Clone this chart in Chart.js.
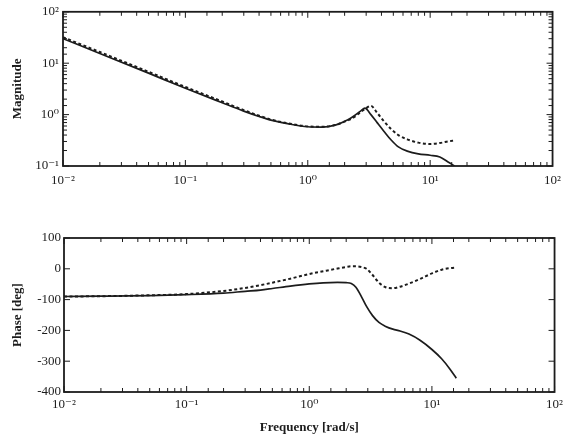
<!DOCTYPE html>
<html>
<head>
<meta charset="utf-8">
<script src="https://cdn.jsdelivr.net/npm/chart.js@4.4.1/dist/chart.umd.min.js"></script>
<style>
  body { margin: 0; background: #fff; }
  canvas { position: absolute; left: 0; }
  #magChart { top: 0; }
  #phaseChart { top: 210px; }
</style>
</head>
<body>
<canvas id="magChart" width="568" height="200"></canvas>
<canvas id="phaseChart" width="568" height="228"></canvas>
<script>
// frequency points [rad/s]
const freq = [0.01, 0.02, 0.05, 0.1, 0.2, 0.3, 0.4, 0.5, 0.7, 1.0, 1.3, 1.7, 2.0, 2.2,
              2.4, 2.7, 2.93, 3.28, 3.7, 4.2, 4.8, 5.5, 6.5, 8, 10, 12, 14, 15.8];

const magSolid = [30, 15.5, 6.4, 3.25, 1.7, 1.17, 0.92, 0.78, 0.66, 0.58, 0.57, 0.63, 0.74, 0.83,
                  0.95, 1.17, 1.34, 1.0, 0.69, 0.47, 0.32, 0.235, 0.195, 0.172, 0.162, 0.15, 0.12, 0.1];
const magDashed = [32, 16.5, 6.8, 3.45, 1.8, 1.22, 0.95, 0.8, 0.67, 0.59, 0.58, 0.63, 0.73, 0.8,
                   0.9, 1.12, 1.28, 1.48, 1.07, 0.74, 0.52, 0.4, 0.33, 0.285, 0.268, 0.28, 0.3, 0.315];

const phaseSolid = [-90, -89, -87, -84, -79, -73, -69, -64, -56, -49, -45.5, -44, -45, -48,
                    -60, -95, -122, -152, -174, -187, -196, -202, -212, -232, -262, -292, -325, -355];
const phaseDashed = [-90, -89, -86, -82, -72, -62, -53, -45, -32, -17, -8, 1, 6, 8,
                     8, 5, 0, -20, -45, -60, -63, -58, -48, -33, -15, -3, 2, 4];

const phaseTicks = [-400, -300, -200, -100, 0, 100];

const sup = { '-2': '⁻²', '-1': '⁻¹', '0': '⁰', '1': '¹', '2': '²' };
const ink = '#1c1c1c';

Chart.defaults.font.family = '"Liberation Serif", "DejaVu Serif", serif';
Chart.defaults.font.size = 13;
Chart.defaults.color = ink;

function pts(ys) {
  return freq.map((f, i) => ({ x: f, y: ys[i] }));
}

function decadeLabel(v) {
  const e = Math.log10(v);
  if (Math.abs(e - Math.round(e)) > 1e-6) return '';
  return '10' + sup[String(Math.round(e))];
}

function lineSet(label, ys, dashed) {
  return {
    label: label,
    data: pts(ys),
    borderColor: ink,
    borderWidth: dashed ? 2 : 1.7,
    borderDash: dashed ? [3, 2.5] : [],
    pointRadius: 0,
    fill: false,
    cubicInterpolationMode: 'monotone'
  };
}

// box around the plot with inward ticks on all four sides
const frameTicks = {
  id: 'frameTicks',
  afterDatasetsDraw(chart) {
    const { ctx, chartArea: a } = chart;
    const x = chart.scales.x, y = chart.scales.y;
    ctx.save();
    ctx.strokeStyle = ink;
    ctx.lineWidth = 1;
    ctx.beginPath();
    x.ticks.forEach(t => {
      const px = x.getPixelForValue(t.value);
      const len = decadeLabel(t.value) ? 6 : 4;
      ctx.moveTo(px, a.bottom); ctx.lineTo(px, a.bottom - len);
      ctx.moveTo(px, a.top); ctx.lineTo(px, a.top + len);
    });
    y.ticks.forEach(t => {
      const py = y.getPixelForValue(t.value);
      const len = (y.type === 'linear' || decadeLabel(t.value)) ? 6 : 4;
      ctx.moveTo(a.left, py); ctx.lineTo(a.left + len, py);
      ctx.moveTo(a.right, py); ctx.lineTo(a.right - len, py);
    });
    ctx.stroke();
    ctx.lineWidth = 1.8;
    ctx.strokeRect(a.left, a.top, a.right - a.left, a.bottom - a.top);
    ctx.restore();
  }
};

function freqAxis(height, pad, title) {
  return {
    type: 'logarithmic',
    min: 0.01,
    max: 100,
    grid: { display: false, drawTicks: false },
    border: { display: false },
    ticks: {
      autoSkip: false,
      maxRotation: 0,
      padding: pad,
      callback: v => decadeLabel(v)
    },
    title: title ? {
      display: true,
      text: title,
      font: { weight: 'bold' },
      padding: { top: 0, bottom: 3 }
    } : { display: false },
    afterFit: s => { s.height = height; }
  };
}

const baseOpts = {
  responsive: false,
  animation: false,
  plugins: { legend: { display: false }, tooltip: { enabled: false } }
};

new Chart(document.getElementById('magChart'), {
  type: 'line',
  data: { datasets: [lineSet('solid', magSolid, false), lineSet('dashed', magDashed, true)] },
  options: Object.assign({}, baseOpts, {
    layout: { padding: { top: 11, right: 12, left: 0, bottom: 0 } },
    scales: {
      x: freqAxis(34, 7),
      y: {
        type: 'logarithmic',
        min: 0.1,
        max: 100,
        grid: { display: false, drawTicks: false },
        border: { display: false },
        ticks: { autoSkip: false, padding: 4, callback: v => decadeLabel(v) },
        title: { display: true, text: 'Magnitude', font: { weight: 'bold' }, padding: { top: 10, bottom: 0 } },
        afterFit: s => { s.width = 63; }
      }
    }
  }),
  plugins: [frameTicks]
});

new Chart(document.getElementById('phaseChart'), {
  type: 'line',
  data: { datasets: [lineSet('solid', phaseSolid, false), lineSet('dashed', phaseDashed, true)] },
  options: Object.assign({}, baseOpts, {
    layout: { padding: { top: 28, right: 12, left: 0, bottom: 0 } },
    scales: {
      x: freqAxis(46, 5, 'Frequency [rad/s]'),
      y: {
        type: 'linear',
        min: phaseTicks[0],
        max: phaseTicks[phaseTicks.length - 1],
        grid: { display: false, drawTicks: false },
        border: { display: false },
        afterBuildTicks: s => { s.ticks = phaseTicks.map(v => ({ value: v })); },
        ticks: { padding: 3, callback: v => String(v) },
        title: { display: true, text: 'Phase [deg]', font: { weight: 'bold' }, padding: { top: 10, bottom: 0 } },
        afterFit: s => { s.width = 64; }
      }
    }
  }),
  plugins: [frameTicks]
});
</script>
</body>
</html>
